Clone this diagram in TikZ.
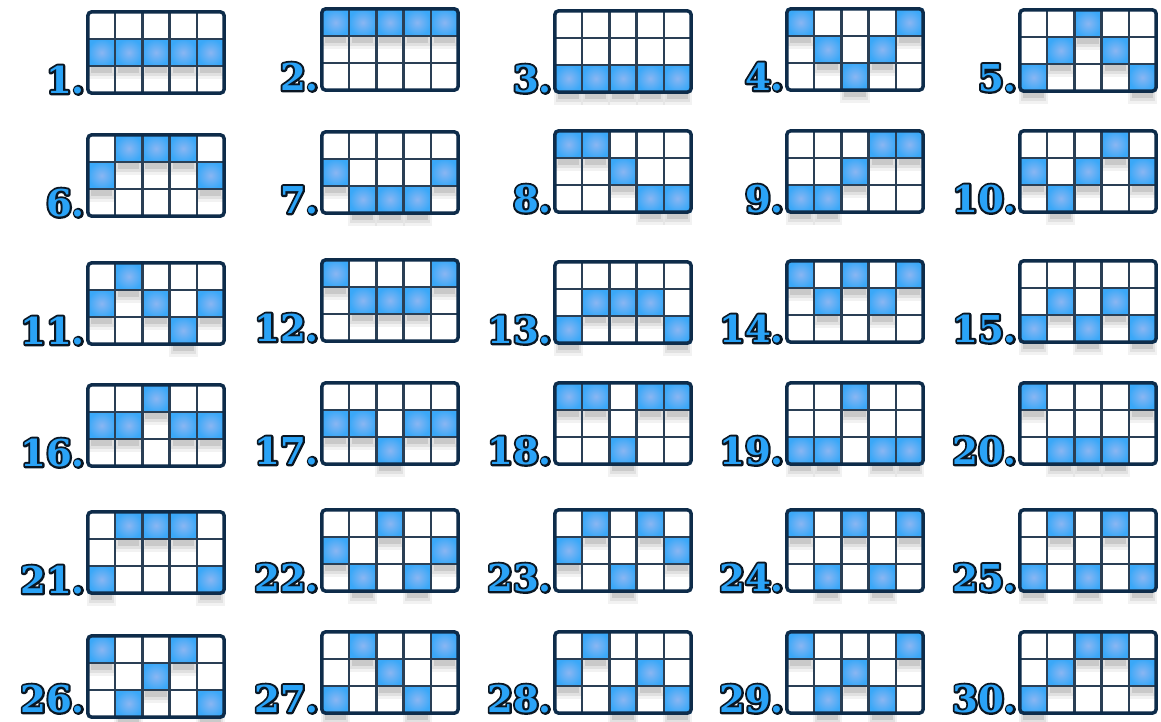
\documentclass[tikz,border=0pt]{standalone}
\usepackage{fontspec}
\newfontfamily\numfont{DejaVu Serif}
\definecolor{gridnavy}{HTML}{0E2C4A}
\definecolor{lineblue}{HTML}{2A3F55}
\definecolor{hiblue}{HTML}{3AA8F8}
\definecolor{hicenter}{HTML}{8AB6F2}
\definecolor{numblue}{HTML}{2AA3F7}
\newcommand{\outlinednum}[1]{\rlap{\special{pdf:literal direct 1 Tr 4.2 w 1 j 0.04 0.086 0.133 RG}#1\special{pdf:literal direct 0 Tr}}{\color{numblue}#1}}
\tikzset{
  gridbg/.style={fill=white, inner sep=0pt, minimum width=136pt, minimum height=81pt, rounded corners=4pt},
  gridframe/.style={draw=gridnavy, line width=3.5pt, rounded corners=4pt},
  gridline/.style={draw=lineblue, line width=2.4pt},
  hicell/.style={inner color=hicenter, outer color=hiblue},
  numlabel/.style={anchor=south east, inner sep=0pt, font=\numfont\bfseries\fontsize{37}{37}\selectfont}
}
\begin{document}
\begin{tikzpicture}[x=1pt,y=-1pt]
\useasboundingbox (0,0) rectangle (1161,722);
\foreach \n/\gx/\gy/\ra/\rb/\rc/\rd/\re in {
 1/88/12/2/2/2/2/2, 2/322/9/1/1/1/1/1, 3/555/11/3/3/3/3/3, 4/787/9/1/2/3/2/1, 5/1020/10/3/2/1/2/3,
 6/88/135/2/1/1/1/2, 7/322/132/2/3/3/3/2, 8/555/131/1/1/2/3/3, 9/787/131/3/3/2/1/1, 10/1020/131/2/3/2/1/2,
 11/88/263/2/1/2/3/2, 12/322/260/1/2/2/2/1, 13/555/262/3/2/2/2/3, 14/787/261/1/2/1/2/1, 15/1020/261/3/2/3/2/3,
 16/88/385/2/2/1/2/2, 17/322/383/2/2/3/2/2, 18/555/383/1/1/3/1/1, 19/787/383/3/3/1/3/3, 20/1020/383/1/3/3/3/1,
 21/88/512/3/1/1/1/3, 22/322/510/2/3/1/3/2, 23/555/510/2/1/3/1/2, 24/787/510/1/3/1/3/1, 25/1020/510/3/1/3/1/3,
 26/88/636/1/3/2/1/3, 27/322/632/3/1/2/3/1, 28/555/632/2/1/3/2/3, 29/787/632/1/3/2/3/1, 30/1020/632/3/2/1/1/2} {
  \node[gridbg] (g\n) at (\gx+68,\gy+40.5) {};
  \foreach \r [count=\i from 0] in {\ra,\rb,\rc,\rd,\re} {
    \pgfmathsetmacro\cx{\gx+\i*27.2}
    \pgfmathsetmacro\cy{\gy+(\r-1)*27}
    \fill[black, opacity=0.05] (\cx-1,\cy+3) rectangle ++(29.2,37);
    \fill[black, opacity=0.07] (\cx+1,\cy+4) rectangle ++(25.2,33);
    \fill[black, opacity=0.10] (\cx+3,\cy+6) rectangle ++(21.2,28);
  }
  \foreach \r [count=\i from 0] in {\ra,\rb,\rc,\rd,\re} {
    \pgfmathsetmacro\cx{\gx+\i*27.2}
    \pgfmathsetmacro\cy{\gy+(\r-1)*27}
    \shade[hicell] (\cx,\cy) rectangle ++(27.2,27);
  }
  \foreach \k in {1,2,3,4} {
    \draw[gridline] (\gx+\k*27.2,\gy) -- (\gx+\k*27.2,\gy+81);
  }
  \draw[gridline] (\gx,\gy+27) -- (\gx+136,\gy+27);
  \draw[gridline] (\gx,\gy+54) -- (\gx+136,\gy+54);
  \draw[gridframe] (g\n.south west) rectangle (g\n.north east);
  \pgfmathsetmacro\ly{min(\gy+82,713)}
  \node[numlabel] (l\n) at (\gx-3,\ly) {\outlinednum{\n.}};
}
\end{tikzpicture}
\end{document}
